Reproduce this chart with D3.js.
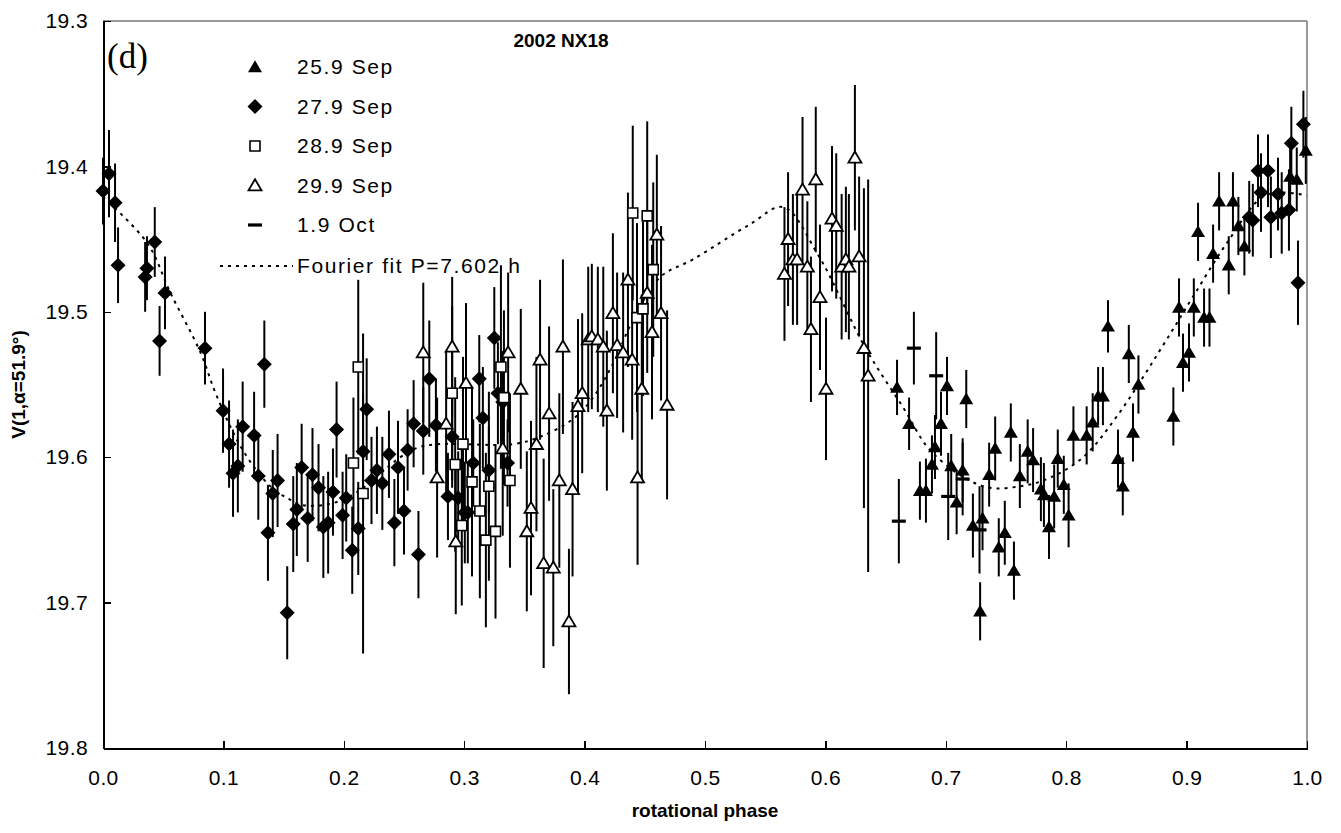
<!DOCTYPE html>
<html lang="en">
<head>
<meta charset="utf-8">
<title>2002 NX18 lightcurve</title>
<script src="https://d3js.org/d3.v7.min.js"></script>
<style>
  body { margin: 0; background: #fff; }
  text { font-family: "Liberation Sans", Arial, sans-serif; fill: #000; }
  .axis path, .axis line { stroke: #000; shape-rendering: crispEdges; }
  .axis text { font-size: 21px; letter-spacing: 0.4px; }
  .legend text { font-size: 21px; letter-spacing: 1.6px; }
</style>
</head>
<body>
<script>
// each point: [rotational phase, magnitude, error]
var sep25 = [
  [0.6595,19.552,0.019],[0.6695,19.577,0.018],[0.6785,19.623,0.020],[0.6835,19.623,0.022],
  [0.6885,19.605,0.020],[0.691,19.593,0.022],[0.696,19.577,0.022],[0.701,19.551,0.020],
  [0.7045,19.606,0.022],[0.709,19.631,0.022],[0.714,19.609,0.022],[0.717,19.560,0.020],
  [0.7225,19.647,0.022],[0.7285,19.706,0.020],[0.7305,19.642,0.022],[0.736,19.612,0.022],
  [0.741,19.594,0.022],[0.744,19.662,0.020],[0.749,19.652,0.022],[0.754,19.583,0.020],
  [0.7566,19.678,0.020],[0.7615,19.613,0.022],[0.768,19.596,0.022],[0.7725,19.602,0.022],
  [0.779,19.622,0.022],[0.7815,19.626,0.022],[0.7857,19.648,0.022],[0.790,19.627,0.022],
  [0.793,19.601,0.020],[0.798,19.619,0.020],[0.802,19.640,0.022],[0.806,19.585,0.020],
  [0.817,19.585,0.020],[0.822,19.576,0.020],[0.8265,19.558,0.020],[0.8305,19.558,0.020],
  [0.8347,19.510,0.018],[0.843,19.601,0.020],[0.847,19.620,0.020],[0.852,19.529,0.020],
  [0.8555,19.583,0.020],[0.860,19.550,0.020],[0.889,19.572,0.020],[0.8937,19.497,0.020],
  [0.897,19.535,0.020],[0.902,19.528,0.020],[0.906,19.497,0.020],[0.9095,19.445,0.020],
  [0.9145,19.504,0.020],[0.919,19.504,0.020],[0.922,19.460,0.020],[0.927,19.424,0.020],
  [0.935,19.468,0.020],[0.9385,19.424,0.020],[0.943,19.441,0.020],[0.948,19.455,0.020],
  [0.986,19.407,0.020],[0.9915,19.409,0.022],[0.999,19.389,0.023]
];
var sep27 = [
  [0.000,19.417,0.023],[0.005,19.405,0.030],[0.010,19.425,0.027],[0.0125,19.468,0.026],
  [0.035,19.476,0.024],[0.0365,19.470,0.022],[0.043,19.452,0.024],[0.047,19.520,0.024],
  [0.0515,19.487,0.025],[0.0847,19.525,0.025],[0.0997,19.568,0.029],[0.1047,19.591,0.030],
  [0.108,19.611,0.030],[0.112,19.606,0.032],[0.116,19.579,0.031],[0.1255,19.585,0.030],
  [0.129,19.613,0.030],[0.134,19.536,0.030],[0.137,19.652,0.033],[0.141,19.625,0.030],
  [0.145,19.616,0.032],[0.153,19.707,0.032],[0.158,19.646,0.033],[0.161,19.636,0.032],
  [0.165,19.607,0.030],[0.170,19.642,0.030],[0.174,19.612,0.032],[0.179,19.621,0.030],
  [0.183,19.648,0.035],[0.187,19.645,0.035],[0.191,19.624,0.030],[0.194,19.581,0.033],
  [0.199,19.640,0.030],[0.202,19.628,0.030],[0.207,19.664,0.030],[0.212,19.649,0.032],
  [0.216,19.596,0.040],[0.219,19.567,0.035],[0.223,19.616,0.030],[0.2275,19.609,0.030],
  [0.232,19.618,0.032],[0.2375,19.598,0.030],[0.242,19.645,0.030],[0.245,19.607,0.032],
  [0.250,19.637,0.030],[0.253,19.595,0.028],[0.258,19.577,0.030],[0.262,19.667,0.030],
  [0.266,19.582,0.030],[0.271,19.546,0.040],[0.2765,19.578,0.032],[0.2865,19.627,0.030],
  [0.290,19.586,0.035],[0.295,19.628,0.032],[0.3005,19.638,0.035],[0.303,19.638,0.035],
  [0.3075,19.604,0.030],[0.3125,19.546,0.030],[0.3155,19.573,0.035],[0.3205,19.609,0.030],
  [0.325,19.518,0.035],[0.328,19.556,0.035],[0.332,19.562,0.035],[0.336,19.604,0.030],
  [0.952,19.435,0.025],[0.955,19.437,0.025],[0.9593,19.403,0.025],[0.9618,19.418,0.027],
  [0.9676,19.403,0.025],[0.970,19.435,0.028],[0.9759,19.419,0.025],[0.979,19.432,0.028],
  [0.985,19.430,0.028],[0.987,19.384,0.025],[0.9925,19.480,0.029],[0.997,19.371,0.023]
];
var sep28 = [
  [0.208,19.604,0.045],[0.212,19.538,0.060],[0.216,19.625,0.110],[0.290,19.556,0.060],
  [0.2925,19.605,0.060],[0.298,19.647,0.055],[0.299,19.591,0.060],[0.3065,19.617,0.065],
  [0.313,19.637,0.060],[0.318,19.657,0.060],[0.3205,19.620,0.065],[0.326,19.651,0.060],
  [0.3305,19.538,0.070],[0.333,19.559,0.060],[0.338,19.616,0.060],[0.440,19.432,0.060],
  [0.4435,19.504,0.065],[0.4485,19.498,0.060],[0.452,19.434,0.065],[0.457,19.471,0.060]
];
var sep29 = [
  [0.266,19.528,0.048],[0.2775,19.614,0.055],[0.285,19.577,0.050],[0.290,19.524,0.048],
  [0.293,19.658,0.050],[0.3015,19.549,0.055],[0.332,19.594,0.060],[0.3365,19.528,0.055],
  [0.347,19.553,0.055],[0.352,19.651,0.055],[0.3555,19.635,0.060],[0.360,19.591,0.060],
  [0.363,19.533,0.055],[0.366,19.673,0.072],[0.3705,19.570,0.060],[0.374,19.676,0.054],
  [0.379,19.616,0.060],[0.382,19.524,0.060],[0.387,19.713,0.050],[0.390,19.622,0.060],
  [0.3945,19.565,0.060],[0.398,19.556,0.055],[0.403,19.519,0.050],[0.406,19.517,0.050],
  [0.411,19.519,0.050],[0.4155,19.524,0.055],[0.4185,19.568,0.055],[0.4235,19.501,0.055],
  [0.427,19.523,0.050],[0.432,19.528,0.055],[0.436,19.478,0.060],[0.4395,19.533,0.055],
  [0.444,19.614,0.060],[0.4475,19.553,0.065],[0.452,19.487,0.055],[0.456,19.514,0.060],
  [0.460,19.447,0.055],[0.4635,19.501,0.060],[0.4685,19.564,0.065],
  [0.566,19.474,0.046],[0.569,19.450,0.046],[0.573,19.464,0.045],[0.5765,19.464,0.045],
  [0.581,19.416,0.050],[0.585,19.469,0.045],[0.588,19.512,0.050],[0.592,19.409,0.050],
  [0.5955,19.490,0.050],[0.6005,19.553,0.049],[0.6055,19.436,0.050],[0.609,19.441,0.050],
  [0.6135,19.469,0.050],[0.617,19.464,0.050],[0.6195,19.469,0.050],[0.6245,19.394,0.050],
  [0.628,19.462,0.055],[0.632,19.525,0.110],[0.6355,19.544,0.135]
];
var oct1 = [
  [0.661,19.644,0.029],[0.6735,19.525,0.025],[0.692,19.544,0.030],[0.702,19.627,0.030],
  [0.714,19.615,0.025],[0.728,19.650,0.030]
];
var fitPhase = [0.0,0.037,0.056,0.081,0.094,0.116,0.139,0.155,0.166,0.189,0.211,0.247,0.263,0.28,0.34,
  0.363,0.390,0.407,0.424,0.440,0.463,0.490,0.537,0.565,0.594,0.634,0.664,0.689,0.731,0.762,
  0.787,0.814,0.842,0.882,0.905,0.934,0.963,0.980,1.0];
var fitMag = [19.421,19.453,19.487,19.528,19.557,19.595,19.620,19.629,19.633,19.632,19.624,19.600,19.593,19.591,19.591,
  19.586,19.574,19.559,19.535,19.506,19.476,19.464,19.440,19.428,19.461,19.526,19.565,19.597,19.620,19.620,
  19.614,19.600,19.572,19.521,19.490,19.452,19.421,19.418,19.420];
var xTicks = [0,0.1,0.2,0.3,0.4,0.5,0.6,0.7,0.8,0.9,1.0];
var yTicks = [19.3,19.4,19.5,19.6,19.7,19.8];
var legendLabels = ["25.9 Sep","27.9 Sep","28.9 Sep","29.9 Sep","1.9 Oct","Fourier fit P=7.602 h"];

var W = 1341, H = 833;
var margin = {top: 21, right: 34, bottom: 85, left: 103};
var width = W - margin.left - margin.right,
    height = H - margin.top - margin.bottom;

var x = d3.scaleLinear().domain([0, 1]).range([0, width]);
var y = d3.scaleLinear().domain([19.3, 19.8]).range([0, height]);

var svg = d3.select("body").append("svg").attr("width", W).attr("height", H);
var main = svg.append("g").attr("transform", "translate(" + margin.left + "," + margin.top + ")");

// frame top/right
main.append("line").attr("x1", 0).attr("x2", width).attr("y1", 0).attr("y2", 0)
  .attr("stroke", "#777").attr("stroke-width", 1.5);
main.append("line").attr("x1", width).attr("x2", width).attr("y1", 0).attr("y2", height)
  .attr("stroke", "#777").attr("stroke-width", 1.5);

main.append("g").attr("class", "axis")
  .attr("transform", "translate(0," + height + ")")
  .call(d3.axisBottom(x).tickValues(xTicks).tickFormat(d3.format(".1f"))
    .tickSizeInner(-7).tickSizeOuter(0).tickPadding(22));
main.append("g").attr("class", "axis")
  .call(d3.axisLeft(y).tickValues(yTicks).tickFormat(d3.format(".1f"))
    .tickSizeInner(-8).tickSizeOuter(0).tickPadding(15));
main.selectAll(".axis path").attr("stroke-width", 2);
main.selectAll(".axis .tick line").attr("stroke-width", 1.2);

// marker shapes
function triPath(s) { return "M0," + (-s * 0.95) + "L" + s + "," + (s * 0.75) + "L" + (-s) + "," + (s * 0.75) + "Z"; }
function diaPath(s) { return "M0," + (-s) + "L" + s + ",0L0," + s + "L" + (-s) + ",0Z"; }
function sqPath(s) { return "M" + (-s) + "," + (-s) + "h" + (2 * s) + "v" + (2 * s) + "h" + (-2 * s) + "Z"; }
function dashPath(s) { return "M" + (-s) + ",-1.6h" + (2 * s) + "v3.2h" + (-2 * s) + "Z"; }

var series = [
  {data: sep25, path: triPath(7), fill: "#000", sw: 0},
  {data: sep27, path: diaPath(7.5), fill: "#000", sw: 0},
  {data: sep28, path: sqPath(5), fill: "#fff", sw: 1.6},
  {data: sep29, path: triPath(6.5), fill: "#fff", sw: 1.8},
  {data: oct1, path: dashPath(7), fill: "#000", sw: 0}
];

// error bars go under the markers
var bars = main.append("g");
series.forEach(function (s) {
  bars.selectAll(null).data(s.data).enter().append("line")
    .attr("x1", function (d) { return x(d[0]); })
    .attr("x2", function (d) { return x(d[0]); })
    .attr("y1", function (d) { return y(d[1] - d[2]); })
    .attr("y2", function (d) { return y(d[1] + d[2]); })
    .attr("stroke", "#000").attr("stroke-width", 2);
});

// Fourier fit
var fitData = fitPhase.map(function (p, i) { return [p, fitMag[i]]; });
main.append("path").datum(fitData)
  .attr("d", d3.line().x(function (d) { return x(d[0]); }).y(function (d) { return y(d[1]); })
    .curve(d3.curveCatmullRom))
  .attr("fill", "none").attr("stroke", "#000").attr("stroke-width", 2)
  .attr("stroke-dasharray", "3,5");

var marks = main.append("g");
series.forEach(function (s) {
  marks.selectAll(null).data(s.data).enter().append("path")
    .attr("transform", function (d) { return "translate(" + x(d[0]) + "," + y(d[1]) + ")"; })
    .attr("d", s.path)
    .attr("fill", s.fill)
    .attr("stroke", "#000").attr("stroke-width", s.sw);
});

// legend
var leg = svg.append("g").attr("class", "legend");
series.forEach(function (s, i) {
  var ly = 67 + i * 39.5;
  leg.append("path").attr("transform", "translate(255," + ly + ")").attr("d", s.path)
    .attr("fill", s.fill).attr("stroke", "#000").attr("stroke-width", s.sw);
  leg.append("text").attr("x", 297).attr("y", ly + 7).text(legendLabels[i]);
});
leg.append("line").attr("x1", 220).attr("x2", 293).attr("y1", 266).attr("y2", 266)
  .attr("stroke", "#000").attr("stroke-width", 2).attr("stroke-dasharray", "3,5");
leg.append("text").attr("x", 297).attr("y", 273).text(legendLabels[5]);

// (d) label and title
svg.append("text").attr("x", 107).attr("y", 68)
  .style("font-family", "'Liberation Serif', 'Times New Roman', serif")
  .attr("font-size", 35).text("(d)");
svg.append("text").attr("x", 561).attr("y", 47).attr("text-anchor", "middle")
  .attr("font-size", 19).attr("font-weight", "bold").text("2002 NX18");

// axis titles
svg.append("text").attr("x", margin.left + width / 2).attr("y", 817).attr("text-anchor", "middle")
  .attr("font-size", 19).attr("font-weight", "bold").text("rotational phase");
svg.append("text").attr("transform", "translate(25," + (margin.top + height / 2) + ") rotate(-90)")
  .attr("text-anchor", "middle").attr("font-size", 19).attr("font-weight", "bold")
  .text("V(1,α=51.9°)");
</script>
</body>
</html>
